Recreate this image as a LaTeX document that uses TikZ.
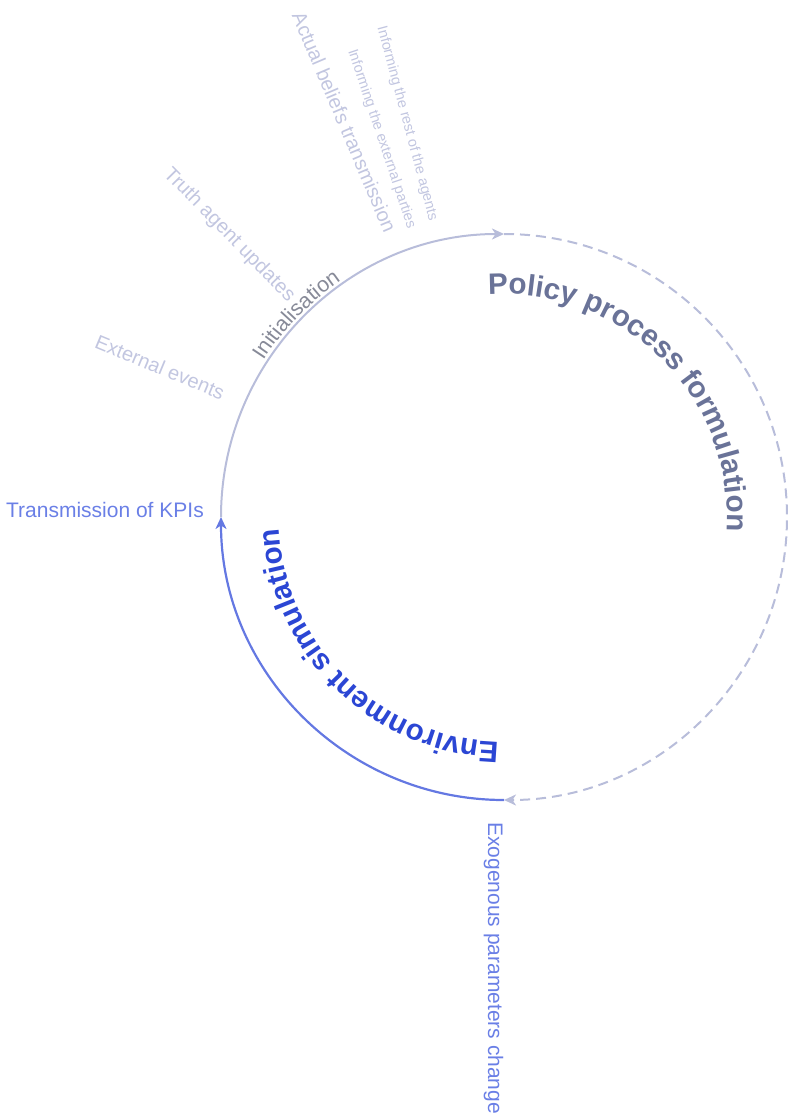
\documentclass[tikz,border=0pt]{standalone}
\usepackage{fontspec}
\setmainfont{Liberation Sans}
\usetikzlibrary{arrows.meta,decorations.text}

\definecolor{ringgray}{HTML}{B8BDDA}
\definecolor{ringblue}{HTML}{6478E2}
\definecolor{envblue}{HTML}{2B46D4}
\definecolor{policyslate}{HTML}{6A7398}
\definecolor{initgray}{HTML}{878A98}
\definecolor{notegray}{HTML}{C2C6E0}
\definecolor{kpiblue}{HTML}{6A7FE6}

\begin{document}
\begin{tikzpicture}[x=1pt,y=1pt,
  ring/.style={line width=2pt, draw=ringgray},
  tipend/.style={-{Stealth[length=12pt,width=11pt,inset=3.5pt]}},
  note/.style={font=\fontsize{20}{20}\selectfont, text=notegray, inner sep=0pt},
  smallnote/.style={font=\fontsize{14.5}{14.5}\selectfont, text=notegray, inner sep=0pt},
  kpinote/.style={font=\fontsize{21}{21}\selectfont, text=kpiblue, inner sep=0pt},
]
\useasboundingbox (0,0) rectangle (789,-1118);

% centre of the cycle and the three points where its arcs meet
\coordinate (C) at (504,-517);
\coordinate (left) at ([shift={(180:283pt)}]C);
\coordinate (top) at ([shift={(90:283pt)}]C);
\coordinate (bottom) at ([shift={(-90:283pt)}]C);

% the cycle
\draw[ring, tipend] (left) arc[start angle=180, end angle=90, radius=283pt];
\draw[ring, dash pattern=on 10pt off 6pt, tipend] (top) arc[start angle=90, end angle=-90, radius=283pt];
\draw[ring, draw=ringblue, line width=2.2pt, tipend] (bottom) arc[start angle=-90, end angle=-180, radius=283pt];

% phase titles set along the inside of the ring
\path[decorate, decoration={text along path, text align=left,
  text={|\color{policyslate}\bfseries\fontsize{29.6}{29.6}\selectfont|Policy process formulation}}]
  ([shift={(94:223pt)}]C) arc[start angle=94, end angle=-20, radius=223pt];
\path[decorate, decoration={text along path, text align=left,
  text={|\color{envblue}\bfseries\fontsize{29.6}{29.6}\selectfont|Environment simulation}}]
  ([shift={(-91.3:225pt)}]C) arc[start angle=-91.3, end angle=-205, radius=225pt];
\path[decorate, decoration={text along path, text align=left,
  text={|\color{initgray}\fontsize{21.5}{21.5}\selectfont|Initialisation}}]
  ([shift={(147:287pt)}]C) arc[start angle=147, end angle=110, radius=287pt];

% radial event labels
\node[note, rotate=-22.5] (ext) at (160,-367) {External events};
\node[note, rotate=-45.5] (truth) at (229,-235) {Truth agent updates};
\node[note, rotate=-67] (beliefs) at (344.5,-122) {Actual beliefs transmission};
\node[smallnote, rotate=-71.5] (parties) at (381.5,-139) {Informing the external parties};
\node[smallnote, rotate=-75] (agents) at (407,-123.5) {Informing the rest of the agents};

% inputs and outputs of the simulation
\node[kpinote, anchor=east] (kpi) at (204,-510) {Transmission of KPIs};
\node[kpinote, rotate=-90, anchor=base west] (exo) at (488,-822) {Exogenous parameters change};
\end{tikzpicture}
\end{document}
